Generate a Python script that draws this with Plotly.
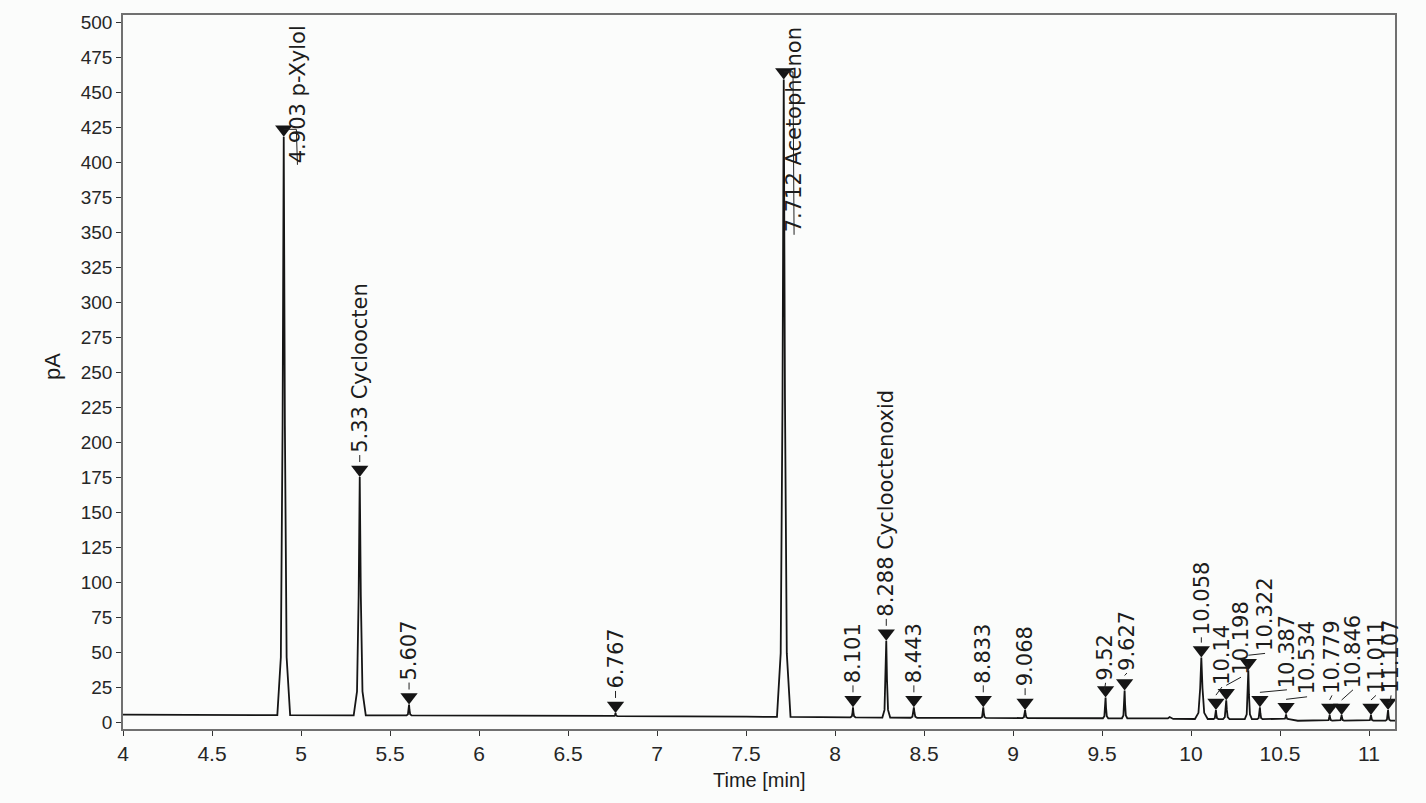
import numpy as np
import plotly.graph_objects as go

# Detected peaks: retention time (min), apex height (pA), half base width (min)
peak_time = [4.903, 5.33, 5.607, 6.767, 7.712, 8.101, 8.288, 8.443, 8.833, 9.068,
             9.52, 9.627, 10.058, 10.14, 10.198, 10.322, 10.387, 10.534, 10.779,
             10.846, 11.011, 11.107]
peak_height = [418, 175, 12.5, 6.5, 459, 10.5, 58, 10.5, 10.5, 8.5,
               17.5, 22.5, 46, 8.5, 15.5, 37, 10.5, 5.5, 5.0,
               5.0, 5.0, 8.5]
peak_halfwidth = [0.036, 0.034, 0.014, 0.012, 0.038, 0.014, 0.022, 0.018, 0.015, 0.015,
                  0.015, 0.015, 0.036, 0.014, 0.018, 0.020, 0.015, 0.014, 0.014,
                  0.014, 0.014, 0.014]
peak_name = ["p-Xylol", "Cycloocten", "", "", "Acetophenon", "", "Cyclooctenoxid", "", "", "",
             "", "", "", "", "", "", "", "", "",
             "", "", ""]
peak_label = ["4.903", "5.33", "5.607", "6.767", "7.712", "8.101", "8.288", "8.443", "8.833", "9.068",
              "9.52", "9.627", "10.058", "10.14", "10.198", "10.322", "10.387", "10.534", "10.779",
              "10.846", "11.011", "11.107"]

# Detector baseline drift (min, pA)
base_time = [4.0, 6.0, 7.5, 8.5, 9.8, 9.87, 9.88, 9.9, 10.55, 10.6, 11.146]
base_level = [5.2, 4.6, 3.8, 3.0, 2.6, 2.6, 3.6, 2.2, 2.0, 0.9, 1.0]

# Label placement: text centre (min) and text start (pA); None -> directly above the marker
label_x = [4.980, None, None, None, 7.770, None, None, None, None, None,
           None, 9.640, None, 10.174, 10.281, 10.416, 10.539, 10.652, 10.792,
           10.910, 11.039, 11.124]
label_y = [398, None, None, None, 348, None, None, None, None, None,
           28, 35, 60.5, 25, 32, 49, 23, 18, 19,
           23, 19, 19]

PX_PER_PA = 716 / 510.0        # vertical scale of the plot area
MARKER_SIZE = 15

# --- chromatogram trace: baseline plus a peaked outline for every detected peak
shape_dx = [-1.0, -0.45, -0.18, 0.0, 0.18, 0.45, 1.0]
shape_fy = [0.0, 0.10, 0.50, 1.0, 0.50, 0.10, 0.0]
pts = []
spans = []
for t, h, hw in zip(peak_time, peak_height, peak_halfwidth):
    b = float(np.interp(t, base_time, base_level))
    spans.append((t - hw, t + hw))
    for dx, fy in zip(shape_dx, shape_fy):
        pts.append((t + dx * hw, b + fy * (h - b)))
for t, v in zip(base_time, base_level):
    if not any(lo <= t <= hi for lo, hi in spans):
        pts.append((t, v))
pts.sort(key=lambda p: p[0])
trace_t = [p[0] for p in pts]
trace_v = [p[1] for p in pts]

fig = go.Figure()
fig.add_trace(go.Scatter(x=trace_t, y=trace_v, mode="lines",
                         line=dict(color="#151515", width=1.8), hoverinfo="skip",
                         showlegend=False))

marker_off = (MARKER_SIZE / 2.0) / PX_PER_PA
marker_y = [h + marker_off for h in peak_height]
fig.add_trace(go.Scatter(x=peak_time, y=marker_y, mode="markers",
                         marker=dict(symbol="triangle-down", size=MARKER_SIZE, color="#151515",
                                     line=dict(width=0)),
                         showlegend=False, cliponaxis=False))

# leaders and labels
lead_x, lead_y = [], []
for i, (t, h) in enumerate(zip(peak_time, peak_height)):
    top = h + MARKER_SIZE / PX_PER_PA
    lx = label_x[i] if label_x[i] is not None else t
    ly = label_y[i] if label_y[i] is not None else top + 7 / PX_PER_PA
    if ly > top:
        lead_x += [t, lx, None]
        lead_y += [top, ly, None]
    else:
        lead_x += [t, lx - 0.006, lx, None]
        lead_y += [h + marker_off, h + marker_off, ly, None]
    text = peak_label[i] + (" " + peak_name[i] if peak_name[i] else "")
    fig.add_annotation(x=lx, y=ly, xref="x", yref="y", text=text, showarrow=False,
                       textangle=-90, xanchor="center", yanchor="bottom",
                       font=dict(family="DejaVu Sans", size=21, color="#1c1c1c"))
fig.add_trace(go.Scatter(x=lead_x, y=lead_y, mode="lines",
                         line=dict(color="#222222", width=1), hoverinfo="skip",
                         showlegend=False))

tick_font = dict(family="Liberation Sans, Arial", size=19, color="#262626")
fig.update_xaxes(range=[4, 11.146], tick0=4, dtick=0.5, ticks="outside", ticklen=5,
                 tickcolor="#333333", showline=True, linecolor="#707070", linewidth=1.5,
                 mirror=True, showgrid=False, zeroline=False,
                 tickfont=dict(family="Liberation Sans, Arial", size=21, color="#262626"))
fig.update_yaxes(range=[-5, 505], tick0=0, dtick=25, ticks="outside", ticklen=5,
                 tickcolor="#333333", showline=True, linecolor="#707070", linewidth=1.5,
                 mirror=True, showgrid=False, zeroline=False, tickfont=tick_font)

fig.add_annotation(text="Time [min]", xref="paper", yref="paper", x=0.5, y=0,
                   yanchor="middle", yshift=-51, showarrow=False,
                   font=dict(family="Liberation Sans, Arial", size=20, color="#1c1c1c"))
fig.add_annotation(text="pA", xref="paper", yref="paper", x=0, y=0.507,
                   xanchor="center", yanchor="middle", xshift=-71, textangle=-90,
                   showarrow=False,
                   font=dict(family="Liberation Sans", size=22, color="#1c1c1c"))

fig.update_layout(width=1426, height=803,
                  margin=dict(l=123, r=31, t=13, b=74),
                  paper_bgcolor="#fbfcfb", plot_bgcolor="#fbfcfb",
                  showlegend=False)

fig.write_html("out.html")
